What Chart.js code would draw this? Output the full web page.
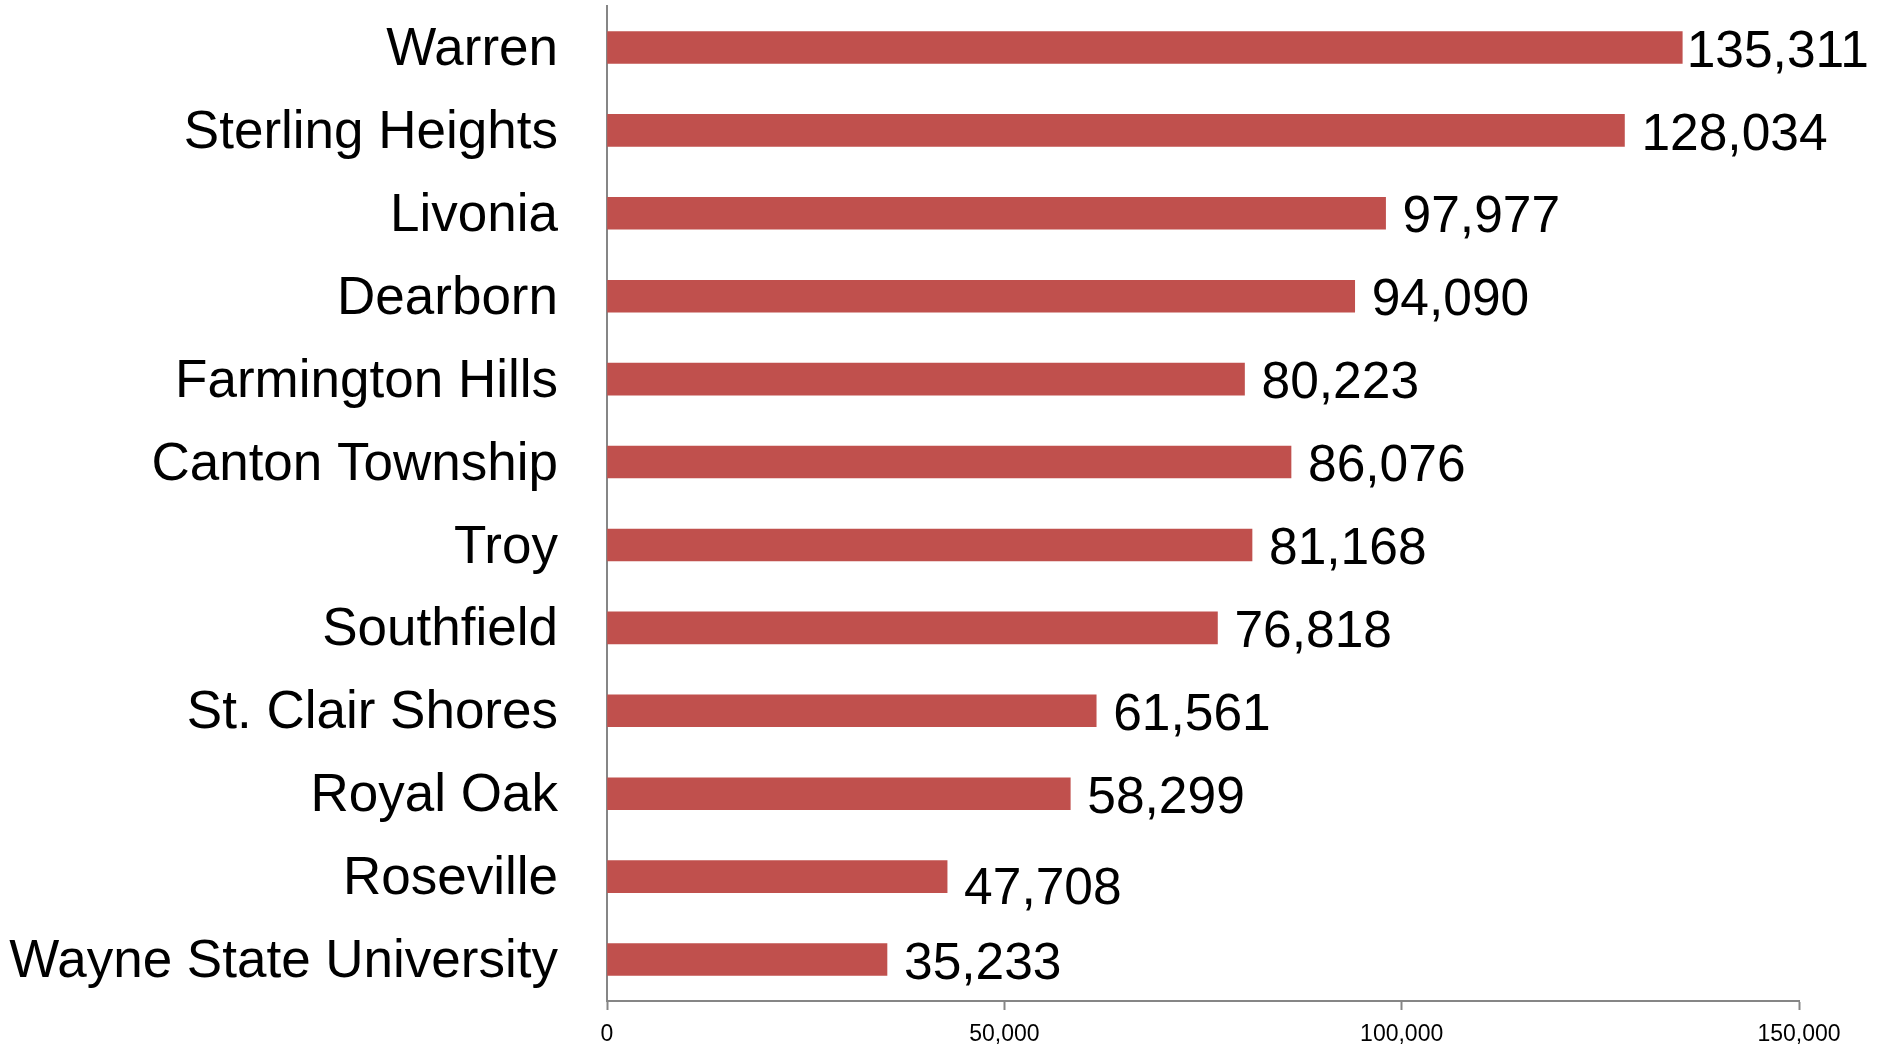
<!DOCTYPE html>
<html lang="en">
<head>
    <meta charset="UTF-8">
    <title>Population</title>
    <script src="https://cdn.jsdelivr.net/npm/chart.js"></script>
    <style>
        html, body {
            margin: 0;
            padding: 0;
            background: #ffffff;
        }
        .container {
            width: 1877px;
            height: 1047px;
        }
    </style>
</head>
<body>

<div class="container">
    <canvas id="pop-graph" width="1877" height="1047"></canvas>
</div>

<script>
    const cities = [
        'Warren', 'Sterling Heights', 'Livonia', 'Dearborn', 'Farmington Hills',
        'Canton Township', 'Troy', 'Southfield', 'St. Clair Shores', 'Royal Oak',
        'Roseville', 'Wayne State University'
    ];
    // bar lengths as drawn in the picture
    const barValues = [135311, 128034, 97977, 94090, 80223, 86076, 81168, 76818, 61561, 58299, 42800, 35233];
    // numbers printed next to the bars
    const valueLabels = ['135,311', '128,034', '97,977', '94,090', '80,223', '86,076', '81,168', '76,818', '61,561', '58,299', '47,708', '35,233'];
    const xTicks = [0, 50000, 100000, 150000];

    const axisGray = '#868686';
    const barRed = '#C0504D';

    // draws the number at the end of each bar
    const valueLabelPlugin = {
        id: 'valueLabels',
        afterDatasetsDraw(chart, args, opts) {
            const ctx = chart.ctx;
            const meta = chart.getDatasetMeta(0);
            ctx.save();
            ctx.font = opts.font;
            ctx.fillStyle = '#000000';
            ctx.textAlign = 'left';
            ctx.textBaseline = 'middle';
            meta.data.forEach((bar, i) => {
                const txt = valueLabels[i];
                const w = ctx.measureText(txt).width;
                let x = bar.x + opts.gap;
                if (x + w > chart.width - opts.edge) {
                    x = chart.width - opts.edge - w;
                }
                const dy = opts.nudge[i] || 0;
                ctx.fillText(txt, x, bar.y + 5 + dy);
            });
            ctx.restore();
        }
    };

    const ctx = document.getElementById('pop-graph').getContext('2d');
    new Chart(ctx, {
        type: 'bar',
        data: {
            labels: cities,
            datasets: [{
                data: barValues,
                backgroundColor: barRed,
                borderWidth: 0,
                barThickness: 32
            }]
        },
        options: {
            indexAxis: 'y',
            responsive: false,
            animation: false,
            layout: {
                padding: { top: 6, right: 78, bottom: 0, left: 0 }
            },
            plugins: {
                legend: { display: false },
                tooltip: { enabled: false },
                valueLabels: {
                    font: '51.5px "Liberation Sans", Arial, sans-serif',
                    gap: 17,
                    edge: 8,
                    nudge: { 10: 8 }
                }
            },
            scales: {
                x: {
                    min: 0,
                    max: 150000,
                    afterBuildTicks: (scale) => {
                        scale.ticks = xTicks.map(v => ({ value: v }));
                    },
                    afterFit: (scale) => {
                        scale.height = 46;
                        scale.paddingLeft = 0;
                        scale.paddingRight = 0;
                    },
                    border: { display: true, color: axisGray, width: 2 },
                    grid: {
                        drawOnChartArea: false,
                        drawTicks: true,
                        tickLength: 9,
                        tickWidth: 2,
                        tickColor: axisGray
                    },
                    ticks: {
                        color: '#000000',
                        padding: 11,
                        maxRotation: 0,
                        font: { family: '"Liberation Sans", Arial, sans-serif', size: 23 },
                        callback: (v) => v.toLocaleString('en-US')
                    }
                },
                y: {
                    afterFit: (scale) => {
                        scale.width = 607;
                        scale.paddingTop = 0;
                        scale.paddingBottom = 0;
                    },
                    border: { display: true, color: axisGray, width: 2 },
                    grid: { display: false, drawTicks: false },
                    ticks: {
                        color: '#000000',
                        padding: 49,
                        labelOffset: 3,
                        font: { family: '"Liberation Sans", Arial, sans-serif', size: 53 }
                    }
                }
            }
        },
        plugins: [valueLabelPlugin]
    });
</script>

</body>
</html>
